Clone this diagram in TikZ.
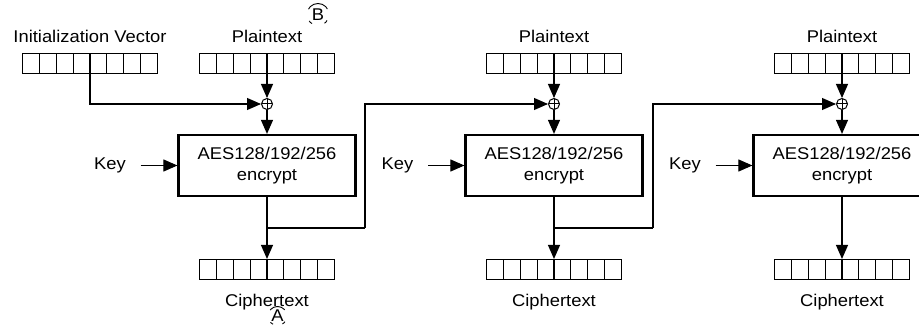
\documentclass[tikz,border=0pt]{standalone}
\usepackage{fontspec}
\setmainfont{Liberation Sans}[FakeStretch=1.08]
\usetikzlibrary{arrows.meta}

\begin{document}
\begin{tikzpicture}[
    x=1pt, y=-1pt,
    every node/.style={font=\fontsize{17}{21}\selectfont},
    register/.style={draw, line width=1.1pt, minimum width=135pt, minimum height=20pt, inner sep=0pt,
      path picture={\foreach \k in {1,...,7}
        \draw[line width=1.1pt] ([xshift=\k*16.875pt]path picture bounding box.south west) -- ([xshift=\k*16.875pt]path picture bounding box.north west);}},
    cipher/.style={draw, line width=2.2pt, minimum width=177pt, minimum height=61pt, align=center, inner sep=0pt},
    xor/.style={circle, draw, line width=1pt, minimum size=11pt, inner sep=0pt,
      path picture={\draw[line width=1pt] (path picture bounding box.north) -- (path picture bounding box.south)
        (path picture bounding box.west) -- (path picture bounding box.east);}},
    keylabel/.style={inner sep=0pt},
    caption/.style={anchor=base, inner sep=0pt},
    marker/.style={circle, draw, line width=0.9pt, inner sep=0pt},
    flow/.style={-{Triangle[length=14pt,width=12pt]}, line width=1.1pt},
    link/.style={line width=1.1pt}
  ]
    \useasboundingbox (0,0) rectangle (919,329);

    % Input registers along the top row
    \node[register] (iv) at (90,63.5) {};
    \node[register] (pt1) at (267,63.5) {};
    \node[register] (pt2) at (554,63.5) {};
    \node[register] (pt3) at (842,63.5) {};
    \node[caption] (ivtext) at (90,43) {Initialization Vector};
    \node[caption] (pttext1) at (267,43) {Plaintext};
    \node[caption] (pttext2) at (554,43) {Plaintext};
    \node[caption] (pttext3) at (842,43) {Plaintext};

    \node[xor] (x1) at (267,104) {};
    \node[xor] (x2) at (554,104) {};
    \node[xor] (x3) at (842,104) {};

    % Block cipher stages
    \node[cipher] (enc1) at (267,165.5) {AES128/192/256\\encrypt};
    \node[cipher] (enc2) at (554,165.5) {AES128/192/256\\encrypt};
    \node[cipher] (enc3) at (842,165.5) {AES128/192/256\\encrypt};
    \node[keylabel] (key1) at (110,165.5) {Key};
    \node[keylabel] (key2) at (397.5,165.5) {Key};
    \node[keylabel] (key3) at (685,165.5) {Key};

    % Output registers
    \node[register] (ct1) at (267,269.5) {};
    \node[register] (ct2) at (554,269.5) {};
    \node[register] (ct3) at (842,269.5) {};
    \node[caption] (cttext1) at (267,306) {Ciphertext};
    \node[caption] (cttext2) at (554,306) {Ciphertext};
    \node[caption] (cttext3) at (842,306) {Ciphertext};

    \node[marker, minimum size=22pt, dash pattern=on 0pt off 5.76pt on 23pt off 12.5pt on 3.84pt off 13.4pt on 3.84pt off 6.7pt] (markB) at (318,14.5) {B};
    \node[marker, minimum size=19pt, dash pattern=on 0pt off 6.63pt on 16.6pt off 13.3pt on 3.3pt off 9.95pt on 3.3pt off 6.63pt] (markA) at (277.5,316) {A};

    \draw[flow] (iv.south) |- (x1.west);
    \draw[flow] (pt1.south) -- (x1.north);
    \draw[flow] (pt2.south) -- (x2.north);
    \draw[flow] (pt3.south) -- (x3.north);
    \draw[flow] (x1.south) -- (enc1.north);
    \draw[flow] (x2.south) -- (enc2.north);
    \draw[flow] (x3.south) -- (enc3.north);

    \draw[flow, shorten <=14.5pt] (key1.east) -- (enc1.west);
    \draw[flow, shorten <=14.5pt] (key2.east) -- (enc2.west);
    \draw[flow, shorten <=14.5pt] (key3.east) -- (enc3.west);

    \draw[flow] (enc1.south) -- (ct1.north);
    \draw[flow] (enc2.south) -- (ct2.north);
    \draw[flow] (enc3.south) -- (ct3.north);

    % Chaining: each ciphertext feeds the next XOR
    \coordinate (tap1) at (267,228);
    \coordinate (hop1) at (365,228);
    \coordinate (tap2) at (554,228);
    \coordinate (hop2) at (653,228);
    \draw[link] (tap1) -- (hop1);
    \draw[flow] (hop1) |- (x2.west);
    \draw[link] (tap2) -- (hop2);
    \draw[flow] (hop2) |- (x3.west);
  \end{tikzpicture}
\end{document}
